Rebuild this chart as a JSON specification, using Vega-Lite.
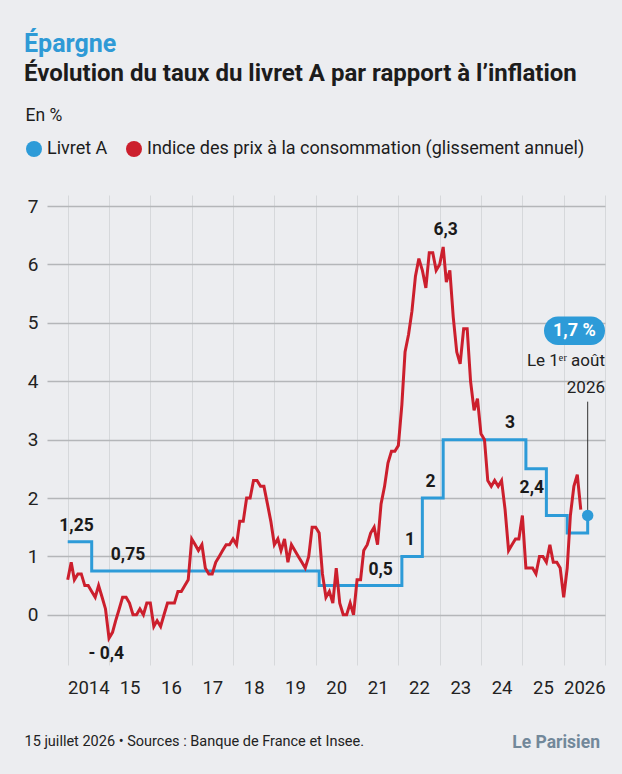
{
  "$schema": "https://vega.github.io/schema/vega-lite/v6.json",
  "width": 558,
  "height": 470,
  "autosize": {"type": "none"},
  "padding": {"left": 47, "top": 195, "right": 17, "bottom": 109},
  "background": "#ecedf0",
  "config": {"view": {"stroke": null}, "font": "Roboto"},
  "title": {
    "text": "Épargne",
    "subtitle": "Évolution du taux du livret A par rapport à l’inflation",
    "anchor": "start",
    "frame": "group",
    "font": "Roboto",
    "fontSize": 25,
    "fontWeight": "bold",
    "color": "#2f9ad6",
    "subtitleFont": "Roboto",
    "subtitleFontSize": 24,
    "subtitleFontWeight": "bold",
    "subtitleColor": "#1c1c1c",
    "subtitlePadding": 5,
    "dx": -23,
    "offset": 20
  },
  "datasets": {
    "cpi": [
      {"date": "2014-01-01", "value": 0.6}, {"date": "2014-02-01", "value": 0.9}, {"date": "2014-03-01", "value": 0.6}, {"date": "2014-04-01", "value": 0.7},
      {"date": "2014-05-01", "value": 0.7}, {"date": "2014-06-01", "value": 0.5}, {"date": "2014-07-01", "value": 0.5}, {"date": "2014-08-01", "value": 0.4},
      {"date": "2014-09-01", "value": 0.3}, {"date": "2014-10-01", "value": 0.5}, {"date": "2014-11-01", "value": 0.3}, {"date": "2014-12-01", "value": 0.1},
      {"date": "2015-01-01", "value": -0.4}, {"date": "2015-02-01", "value": -0.3}, {"date": "2015-03-01", "value": -0.1}, {"date": "2015-04-01", "value": 0.1},
      {"date": "2015-05-01", "value": 0.3}, {"date": "2015-06-01", "value": 0.3}, {"date": "2015-07-01", "value": 0.2}, {"date": "2015-08-01", "value": 0.0},
      {"date": "2015-09-01", "value": 0.0}, {"date": "2015-10-01", "value": 0.1}, {"date": "2015-11-01", "value": 0.0}, {"date": "2015-12-01", "value": 0.2},
      {"date": "2016-01-01", "value": 0.2}, {"date": "2016-02-01", "value": -0.2}, {"date": "2016-03-01", "value": -0.1}, {"date": "2016-04-01", "value": -0.2},
      {"date": "2016-05-01", "value": 0.0}, {"date": "2016-06-01", "value": 0.2}, {"date": "2016-07-01", "value": 0.2}, {"date": "2016-08-01", "value": 0.2},
      {"date": "2016-09-01", "value": 0.4}, {"date": "2016-10-01", "value": 0.4}, {"date": "2016-11-01", "value": 0.5}, {"date": "2016-12-01", "value": 0.6},
      {"date": "2017-01-01", "value": 1.3}, {"date": "2017-02-01", "value": 1.2}, {"date": "2017-03-01", "value": 1.1}, {"date": "2017-04-01", "value": 1.2},
      {"date": "2017-05-01", "value": 0.8}, {"date": "2017-06-01", "value": 0.7}, {"date": "2017-07-01", "value": 0.7}, {"date": "2017-08-01", "value": 0.9},
      {"date": "2017-09-01", "value": 1.0}, {"date": "2017-10-01", "value": 1.1}, {"date": "2017-11-01", "value": 1.2}, {"date": "2017-12-01", "value": 1.2},
      {"date": "2018-01-01", "value": 1.3}, {"date": "2018-02-01", "value": 1.2}, {"date": "2018-03-01", "value": 1.6}, {"date": "2018-04-01", "value": 1.6},
      {"date": "2018-05-01", "value": 2.0}, {"date": "2018-06-01", "value": 2.0}, {"date": "2018-07-01", "value": 2.3}, {"date": "2018-08-01", "value": 2.3},
      {"date": "2018-09-01", "value": 2.2}, {"date": "2018-10-01", "value": 2.2}, {"date": "2018-11-01", "value": 1.9}, {"date": "2018-12-01", "value": 1.6},
      {"date": "2019-01-01", "value": 1.2}, {"date": "2019-02-01", "value": 1.3}, {"date": "2019-03-01", "value": 1.1}, {"date": "2019-04-01", "value": 1.3},
      {"date": "2019-05-01", "value": 0.9}, {"date": "2019-06-01", "value": 1.2}, {"date": "2019-07-01", "value": 1.1}, {"date": "2019-08-01", "value": 1.0},
      {"date": "2019-09-01", "value": 0.9}, {"date": "2019-10-01", "value": 0.8}, {"date": "2019-11-01", "value": 1.0}, {"date": "2019-12-01", "value": 1.5},
      {"date": "2020-01-01", "value": 1.5}, {"date": "2020-02-01", "value": 1.4}, {"date": "2020-03-01", "value": 0.7}, {"date": "2020-04-01", "value": 0.3},
      {"date": "2020-05-01", "value": 0.4}, {"date": "2020-06-01", "value": 0.2}, {"date": "2020-07-01", "value": 0.8}, {"date": "2020-08-01", "value": 0.2},
      {"date": "2020-09-01", "value": 0.0}, {"date": "2020-10-01", "value": 0.0}, {"date": "2020-11-01", "value": 0.2}, {"date": "2020-12-01", "value": 0.0},
      {"date": "2021-01-01", "value": 0.6}, {"date": "2021-02-01", "value": 0.6}, {"date": "2021-03-01", "value": 1.1}, {"date": "2021-04-01", "value": 1.2},
      {"date": "2021-05-01", "value": 1.4}, {"date": "2021-06-01", "value": 1.5}, {"date": "2021-07-01", "value": 1.2}, {"date": "2021-08-01", "value": 1.9},
      {"date": "2021-09-01", "value": 2.2}, {"date": "2021-10-01", "value": 2.6}, {"date": "2021-11-01", "value": 2.8}, {"date": "2021-12-01", "value": 2.8},
      {"date": "2022-01-01", "value": 2.9}, {"date": "2022-02-01", "value": 3.6}, {"date": "2022-03-01", "value": 4.5}, {"date": "2022-04-01", "value": 4.8},
      {"date": "2022-05-01", "value": 5.2}, {"date": "2022-06-01", "value": 5.8}, {"date": "2022-07-01", "value": 6.1}, {"date": "2022-08-01", "value": 5.9},
      {"date": "2022-09-01", "value": 5.6}, {"date": "2022-10-01", "value": 6.2}, {"date": "2022-11-01", "value": 6.2}, {"date": "2022-12-01", "value": 5.9},
      {"date": "2023-01-01", "value": 6.0}, {"date": "2023-02-01", "value": 6.3}, {"date": "2023-03-01", "value": 5.7}, {"date": "2023-04-01", "value": 5.9},
      {"date": "2023-05-01", "value": 5.1}, {"date": "2023-06-01", "value": 4.5}, {"date": "2023-07-01", "value": 4.3}, {"date": "2023-08-01", "value": 4.9},
      {"date": "2023-09-01", "value": 4.9}, {"date": "2023-10-01", "value": 4.0}, {"date": "2023-11-01", "value": 3.5}, {"date": "2023-12-01", "value": 3.7},
      {"date": "2024-01-01", "value": 3.1}, {"date": "2024-02-01", "value": 3.0}, {"date": "2024-03-01", "value": 2.3}, {"date": "2024-04-01", "value": 2.2},
      {"date": "2024-05-01", "value": 2.3}, {"date": "2024-06-01", "value": 2.2}, {"date": "2024-07-01", "value": 2.3}, {"date": "2024-08-01", "value": 1.8},
      {"date": "2024-09-01", "value": 1.1}, {"date": "2024-10-01", "value": 1.2}, {"date": "2024-11-01", "value": 1.3}, {"date": "2024-12-01", "value": 1.3},
      {"date": "2025-01-01", "value": 1.7}, {"date": "2025-02-01", "value": 0.8}, {"date": "2025-03-01", "value": 0.8}, {"date": "2025-04-01", "value": 0.8},
      {"date": "2025-05-01", "value": 0.7}, {"date": "2025-06-01", "value": 1.0}, {"date": "2025-07-01", "value": 1.0}, {"date": "2025-08-01", "value": 0.9},
      {"date": "2025-09-01", "value": 1.2}, {"date": "2025-10-01", "value": 0.9}, {"date": "2025-11-01", "value": 0.9}, {"date": "2025-12-01", "value": 0.8},
      {"date": "2026-01-01", "value": 0.3}, {"date": "2026-02-01", "value": 0.8}, {"date": "2026-03-01", "value": 1.7}, {"date": "2026-04-01", "value": 2.2},
      {"date": "2026-05-01", "value": 2.4}, {"date": "2026-06-01", "value": 1.8}
    ],
    "livret": [
      {"date": "2014-01-01", "value": 1.25},
      {"date": "2014-08-01", "value": 0.75},
      {"date": "2020-02-01", "value": 0.5},
      {"date": "2022-02-01", "value": 1.0},
      {"date": "2022-08-01", "value": 2.0},
      {"date": "2023-02-01", "value": 3.0},
      {"date": "2025-02-01", "value": 2.5},
      {"date": "2025-08-01", "value": 1.7},
      {"date": "2026-02-01", "value": 1.4},
      {"date": "2026-08-01", "value": 1.7}
    ],
    "dot": [
      {"serie": "Livret A", "date": "2026-08-01", "value": 1.7}
    ],
    "leader": [
      {"date": "2026-08-01", "value": 3.65, "value2": 1.7}
    ],
    "pill": [
      {"date": "2025-07-11", "date2": "2027-01-01", "value": 5.11, "value2": 4.62}
    ],
    "labels": [
      {"date": "2014-03-20", "value": 1.52, "label": "1,25"},
      {"date": "2015-06-18", "value": 1.02, "label": "0,75"},
      {"date": "2014-12-08", "value": -0.67, "label": "- 0,4"},
      {"date": "2021-07-28", "value": 0.77, "label": "0,5"},
      {"date": "2022-04-15", "value": 1.28, "label": "1"},
      {"date": "2022-10-12", "value": 2.27, "label": "2"},
      {"date": "2024-09-13", "value": 3.28, "label": "3"},
      {"date": "2025-03-25", "value": 2.17, "label": "2,4"},
      {"date": "2023-02-23", "value": 6.59, "label": "6,3"}
    ],
    "pilltext": [
      {"date": "2026-04-06", "value": 4.86, "label": "1,7 %"}
    ],
    "note": [
      {"date": "2027-01-01", "value": 4.34, "label": "Le 1ᵉʳ août"},
      {"date": "2027-01-01", "value": 3.88, "label": "2026"}
    ],
    "logo": [
      {"date": "2025-10-26", "value": -2.19, "label": "Le Parisien"}
    ]
  },
  "encoding": {
    "x": {
      "field": "date",
      "type": "temporal",
      "scale": {
        "type": "utc",
        "domain": [
          {"year": 2013, "month": 7, "date": 2, "utc": true},
          {"year": 2027, "month": 1, "date": 1, "utc": true}
        ]
      },
      "axis": {
        "values": [
          {"year": 2014, "month": 1, "date": 1, "utc": true},
          {"year": 2015, "month": 1, "date": 1, "utc": true},
          {"year": 2016, "month": 1, "date": 1, "utc": true},
          {"year": 2017, "month": 1, "date": 1, "utc": true},
          {"year": 2018, "month": 1, "date": 1, "utc": true},
          {"year": 2019, "month": 1, "date": 1, "utc": true},
          {"year": 2020, "month": 1, "date": 1, "utc": true},
          {"year": 2021, "month": 1, "date": 1, "utc": true},
          {"year": 2022, "month": 1, "date": 1, "utc": true},
          {"year": 2023, "month": 1, "date": 1, "utc": true},
          {"year": 2024, "month": 1, "date": 1, "utc": true},
          {"year": 2025, "month": 1, "date": 1, "utc": true},
          {"year": 2026, "month": 1, "date": 1, "utc": true},
          {"year": 2027, "month": 1, "date": 1, "utc": true}
        ],
        "grid": true,
        "gridColor": "#d6d8db",
        "gridWidth": 1,
        "ticks": false,
        "domain": false,
        "labelOffset": 20.6,
        "labelExpr": "utcyear(datum.value) == 2027 ? '' : ((utcyear(datum.value) == 2014 || utcyear(datum.value) == 2026) ? utcFormat(datum.value, '%Y') : utcFormat(datum.value, '%y'))",
        "labelFont": "Roboto",
        "labelFontSize": 18.5,
        "labelColor": "#222222",
        "labelPadding": 22,
        "labelBaseline": "middle",
        "labelAlign": "center",
        "labelOverlap": false,
        "labelFlush": false,
        "labelBound": false,
        "title": "15 juillet 2026 • Sources : Banque de France et Insee.",
        "titleX": -23,
        "titleY": 76,
        "titleAnchor": "start",
        "titleAlign": "left",
        "titleBaseline": "middle",
        "titleFont": "Roboto",
        "titleFontSize": 14.5,
        "titleFontWeight": "normal",
        "titleColor": "#222222"
      }
    },
    "y": {
      "field": "value",
      "type": "quantitative",
      "scale": {"domain": [-0.86, 7.19], "nice": false, "zero": false},
      "axis": {
        "values": [0, 1, 2, 3, 4, 5, 6, 7],
        "grid": true,
        "gridColor": "#b4b6b9",
        "gridWidth": 1.3,
        "ticks": false,
        "domain": false,
        "labelFont": "Roboto",
        "labelFontSize": 19,
        "labelColor": "#222222",
        "labelPadding": 9,
        "title": "En %",
        "titleAngle": 0,
        "titleX": -22,
        "titleY": -80,
        "titleAlign": "left",
        "titleBaseline": "middle",
        "titleFont": "Roboto",
        "titleFontSize": 17.5,
        "titleFontWeight": "normal",
        "titleColor": "#1c1c1c"
      }
    }
  },
  "layer": [
    {
      "data": {"name": "livret"},
      "mark": {"type": "line", "color": "#2d9bd8", "strokeWidth": 3, "interpolate": "step-after"}
    },
    {
      "data": {"name": "cpi"},
      "mark": {"type": "line", "color": "#cc1f2d", "strokeWidth": 3}
    },
    {
      "data": {"name": "leader"},
      "mark": {"type": "rule", "color": "#333333", "strokeWidth": 1},
      "encoding": {"y2": {"field": "value2"}}
    },
    {
      "data": {"name": "dot"},
      "mark": {"type": "point", "filled": true, "opacity": 1, "size": 130, "shape": "circle"},
      "encoding": {
        "color": {
          "field": "serie",
          "type": "nominal",
          "scale": {
            "domain": ["Livret A", "Indice des prix à la consommation (glissement annuel)"],
            "range": ["#2d9bd8", "#cc1f2d"]
          },
          "legend": {
            "orient": "none",
            "legendX": -22,
            "legendY": -55,
            "direction": "horizontal",
            "title": null,
            "labelFont": "Roboto",
            "labelFontSize": 18,
            "labelColor": "#1c1c1c",
            "symbolType": "circle",
            "symbolSize": 256,
            "symbolStrokeWidth": 0,
            "symbolOpacity": 1,
            "columnPadding": 17,
            "labelOffset": 4,
            "labelLimit": 600,
            "padding": 0
          }
        }
      }
    },
    {
      "data": {"name": "pill"},
      "mark": {"type": "rect", "color": "#2d9bd8", "cornerRadius": 14},
      "encoding": {"x2": {"field": "date2"}, "y2": {"field": "value2"}}
    },
    {
      "data": {"name": "pilltext"},
      "mark": {"type": "text", "font": "Roboto", "fontWeight": "bold", "fontSize": 18, "color": "#ffffff", "align": "center", "baseline": "middle"},
      "encoding": {"text": {"field": "label"}}
    },
    {
      "data": {"name": "labels"},
      "mark": {"type": "text", "font": "Roboto", "fontWeight": "bold", "fontSize": 17.5, "color": "#1a1a1a", "align": "center", "baseline": "middle"},
      "encoding": {"text": {"field": "label"}}
    },
    {
      "data": {"name": "note"},
      "mark": {"type": "text", "font": "Roboto", "fontSize": 17, "color": "#222222", "align": "right", "baseline": "middle"},
      "encoding": {"text": {"field": "label"}}
    },
    {
      "data": {"name": "logo"},
      "mark": {"type": "text", "font": "Roboto", "fontWeight": "bold", "fontSize": 17.5, "color": "#72889a", "align": "center", "baseline": "middle"},
      "encoding": {"text": {"field": "label"}}
    }
  ]
}
